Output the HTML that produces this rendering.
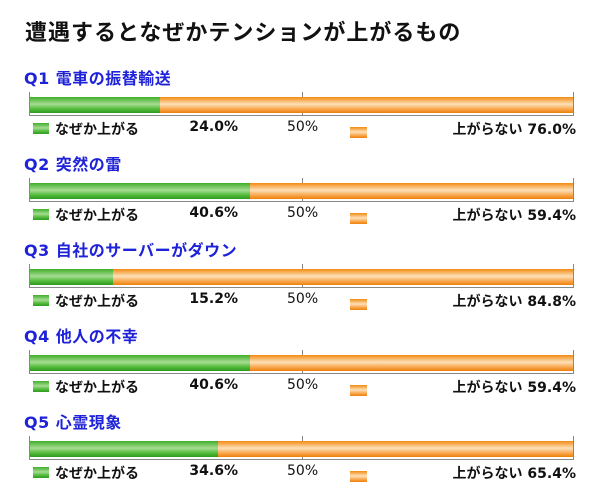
<!DOCTYPE html>
<html><head><meta charset="utf-8">
<style>
body{margin:0;background:#fff;width:600px;height:504px;overflow:hidden;position:relative;font-family:"DejaVu Sans","Noto Sans CJK JP",sans-serif;}
.t{position:absolute;left:25px;top:15px;font-size:22px;font-weight:bold;color:#111;white-space:nowrap;letter-spacing:1px}
.q{position:absolute;left:24px;font-size:16px;font-weight:bold;color:#1e22d8;white-space:nowrap;letter-spacing:0.5px}
.ax{position:absolute;background:#888}
.bar{position:absolute;height:16px;z-index:2}
.g{background:linear-gradient(#3fae2a,#a6dc92 45%,#52bb3b 75%,#2f9a20)}
.o{background:linear-gradient(#f28a10,#fde0b8 45%,#f9a851 75%,#ee8008)}
.lg{position:absolute;font-size:14px;font-weight:bold;color:#111;white-space:nowrap}
.sq{position:absolute;width:16px;height:11px}
</style></head><body>
<div class="t">遭遇するとなぜかテンションが上がるもの</div>
<div id="c"></div>
<script>
const questions=["Q1 電車の振替輸送","Q2 突然の雷","Q3 自社のサーバーがダウン","Q4 他人の不幸","Q5 心霊現象"];
const upValues=[24.0,40.6,15.2,40.6,34.6];
const downValues=[76.0,59.4,84.8,59.4,65.4];
const upLabel="なぜか上がる";
const downLabel="上がらない";
const X0=30,X1=573;
function xs(v){return X0+(X1-X0)*v/100;}
const c=document.getElementById('c');
function mk(cls,st,txt){const e=document.createElement('div');e.className=cls;e.style.cssText=st;if(txt!==undefined)e.textContent=txt;c.appendChild(e);return e;}
questions.forEach((q,i)=>{
 const y=i*86;
 let e=mk('q','top:'+(65+y)+'px',q);
 
 
 const up=upValues[i],dn=downValues[i];
 e=mk('bar g','left:'+X0+'px;top:'+(97+y)+'px;width:'+(xs(up)-X0)+'px');
 
 
 e=mk('bar o','left:'+xs(up)+'px;top:'+(97+y)+'px;width:'+(xs(up+dn)-xs(up))+'px');
 
 
 [[X0-1,92,1,24],[xs(50),92,1,24],[X1,92,1,24],[X0-1,115,X1-X0+2,1]].forEach(a=>{
  e=mk('ax','left:'+a[0]+'px;top:'+(a[1]+y)+'px;width:'+a[2]+'px;height:'+a[3]+'px');
  
  
 });
 e=mk('sq g','left:33px;top:'+(123+y)+'px');
 
 
 e=mk('lg','left:55px;top:'+(119+y)+'px',upLabel);
 
 
 e=mk('lg','right:'+(600-238)+'px;top:'+(119+y)+'px',up.toFixed(1)+'%');
 
 
 e=mk('lg','left:287px;top:'+(119+y)+'px;font-weight:normal','50%');
 
 
 e=mk('sq o','left:350px;top:'+(127+y)+'px;width:17px');
 
 
 e=mk('lg','right:24px;top:'+(119+y)+'px',downLabel+' '+dn.toFixed(1)+'%');
 
 
});
</script>
</body></html>
